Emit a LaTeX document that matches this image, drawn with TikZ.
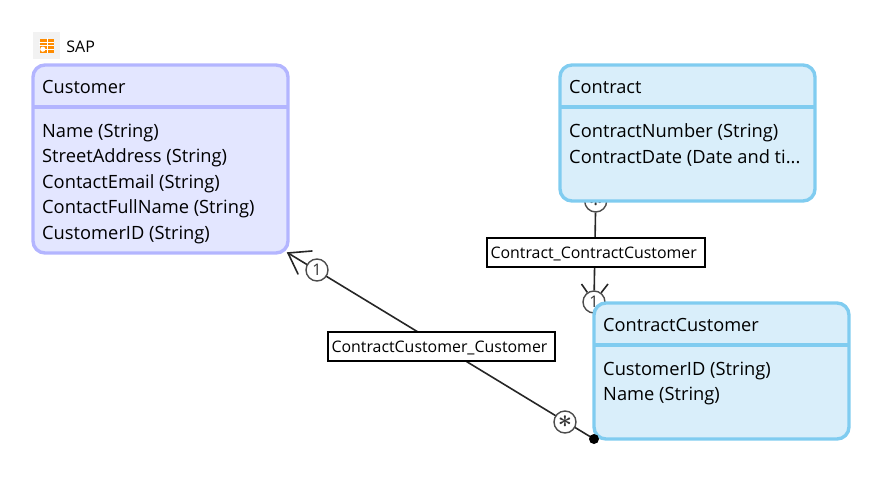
\documentclass[tikz,border=0pt]{standalone}
\usepackage{fontspec}
\setmainfont{Open Sans}
\usetikzlibrary{positioning,calc}
\pgfdeclarelayer{background}
\pgfsetlayers{background,main}
\definecolor{sapBorder}{HTML}{B3B5FF}
\definecolor{sapFill}{HTML}{E3E6FF}
\definecolor{crmBorder}{HTML}{80CCF0}
\definecolor{crmFill}{HTML}{D9EEFA}
\definecolor{iconOrange}{HTML}{FF8C00}
\tikzset{
    entity/.style={draw, line width=3.4pt, rounded corners=12pt, outer sep=0pt, minimum width=255pt, anchor=north west},
    entityDivider/.style={line width=3.4pt},
    entityTitle/.style={font=\fontsize{18.2}{20}\selectfont, inner sep=0pt, anchor=west},
    entityAttrs/.style={font=\fontsize{18.3}{25.5}\selectfont, inner sep=0pt, align=left, anchor=north west},
    relLabel/.style={draw=black, fill=white, line width=1.3pt, inner xsep=3.5pt, inner ysep=0pt, outer sep=0pt, minimum height=29pt, text height=14pt, text depth=2pt, align=left, font=\fontsize{15.9}{18}\selectfont},
    mult/.style={draw=black!70, fill=white, circle, line width=1.4pt, minimum size=22pt, inner sep=0pt, text=black!80, font=\fontsize{16}{16}\selectfont},
    multStar/.style={mult, font=\fontsize{23}{23}\selectfont\boldmath}
}
\tikzset{relLine/.style={draw=black!85, line width=1.6pt}}
\begin{document}
\begin{tikzpicture}[x=1pt,y=1pt]
\useasboundingbox (0,0) rectangle (878,-477);
% package header
\node[fill=black!5, minimum size=27pt, inner sep=0pt] (iconBg) at (46.5,-45.5) {};
\node[fill=iconOrange, minimum size=14pt, inner sep=0pt] (icon) at (iconBg) {};
\draw[white, line width=0.9pt] (icon.west) -- (icon.east) ($(icon.west)+(2,-3.5)$) -- ($(icon.east)+(0,-3.5)$) ($(icon.west)+(0,3.5)$) -- ($(icon.east)+(0,3.5)$) ($(icon.north)+(1,0)$) -- ($(icon.south)+(1,0)$);
\fill[white] ($(icon.south west)+(3.5,3.5)$) circle (2.6pt);
\node[right=6pt of iconBg, yshift=-1.2pt, inner sep=0pt, font=\fontsize{16}{18}\selectfont] (sapLabel) {SAP};
% entities
\node[entity, draw=sapBorder, fill=sapFill, minimum height=188pt] (customer) at (33,-65) {};
\node[entity, draw=crmBorder, fill=crmFill, minimum height=136pt] (contract) at (560,-65) {};
\node[entity, draw=crmBorder, fill=crmFill, minimum height=136pt] (contractCustomer) at (594,-303) {};
\draw[entityDivider, sapBorder] ($(customer.north west)+(0,-42)$) coordinate (customerDivL) -- ($(customer.north east)+(0,-42)$) coordinate (customerDivR);
\draw[entityDivider, crmBorder] ($(contract.north west)+(0,-42)$) coordinate (contractDivL) -- ($(contract.north east)+(0,-42)$) coordinate (contractDivR);
\draw[entityDivider, crmBorder] ($(contractCustomer.north west)+(0,-42)$) coordinate (ccDivL) -- ($(contractCustomer.north east)+(0,-42)$) coordinate (ccDivR);
\node[entityTitle] (customerTitle) at ($(customer.north west)+(9,-22)$) {Customer};
\node[entityAttrs] (customerAttrs) at ($(customer.north west)+(9,-58.5)$) {Name (String)\\StreetAddress (String)\\ContactEmail (String)\\ContactFullName (String)\\CustomerID (String)};
\node[entityTitle] (contractTitle) at ($(contract.north west)+(9,-22)$) {Contract};
\node[entityAttrs] (contractAttrs) at ($(contract.north west)+(9,-58.5)$) {ContractNumber (String)\\ContractDate (Date and ti...};
\node[entityTitle] (ccTitle) at ($(contractCustomer.north west)+(9,-22)$) {ContractCustomer};
\node[entityAttrs] (ccAttrs) at ($(contractCustomer.north west)+(9,-58.5)$) {CustomerID (String)\\Name (String)};
% relations, behind the entities
\begin{pgfonlayer}{background}
\node[multStar] (multContract) at (595.7,-201) {$\ast$};
\node[mult] (multContractCust) at (594,-302) {1};
\coordinate (legA) at (581.5,-284);
\coordinate (legB) at (608,-284);
\coordinate (legC) at (312,-251);
\coordinate (legD) at (298,-274);
\end{pgfonlayer}
\draw[relLine] (multContract) -- (multContractCust);
\draw[relLine] (legA) -- (multContractCust) (legB) -- (multContractCust);
\draw[relLine] (customer.south east) -- (contractCustomer.south west);
\draw[relLine, line cap=round] (legC) -- (customer.south east) -- (legD);
\node[mult] (multCustomer) at (317,-270) {1};
\node[multStar] (multCC) at (565,-422) {$\ast$};
\fill[black] (contractCustomer.south west) circle (5pt);
\node[relLabel, text width=211pt] (relContract) at (596,-252.5) {Contract\_ContractCustomer};
\node[relLabel, text width=220pt] (relCustomer) at (441.5,-346.5) {ContractCustomer\_Customer};
\end{tikzpicture}
\end{document}
